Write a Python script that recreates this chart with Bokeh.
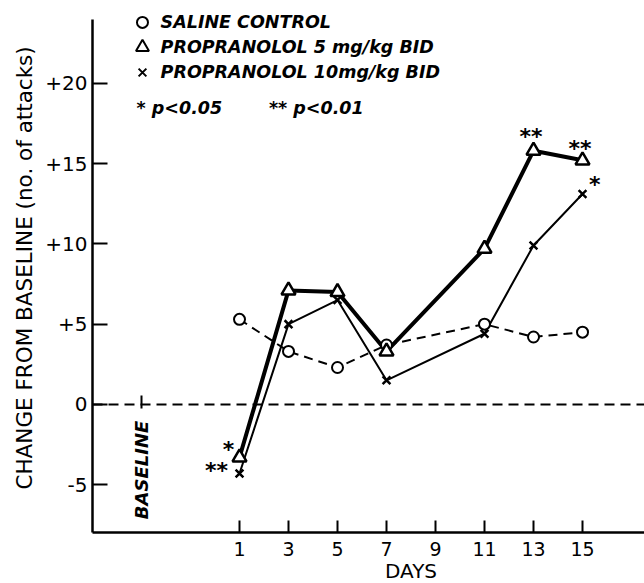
import math
from bokeh.plotting import figure
from bokeh.models import Range1d, FixedTicker
from bokeh.core.properties import value
from bokeh.embed import file_html
from bokeh.resources import INLINE

# ---- data ----
days = [1, 3, 5, 7, 11, 13, 15]
saline = [5.3, 3.3, 2.3, 3.7, 5.0, 4.2, 4.5]
prop5 = [-3.3, 7.1, 7.0, 3.3, 9.7, 15.8, 15.2]
prop10 = [-4.3, 5.0, 6.5, 1.5, 4.4, 9.9, 13.1]

x_ticks = [1, 3, 5, 7, 9, 11, 13, 15]
y_ticks = [-5, 0, 5, 10, 15, 20]
y_tick_labels = ["-5", "0", "+5", "+10", "+15", "+20"]

legend_labels = ["SALINE CONTROL", "PROPRANOLOL 5 mg/kg BID", "PROPRANOLOL 10mg/kg BID"]
legend_markers = ["circle", "triangle", "x"]
sig_legend = ["* p<0.05", "** p<0.01"]

# significance marks (day, value-position, text)
sig_x = [0.55, 0.06, 12.9, 14.9, 15.5]
sig_y = [-2.35, -3.7, 17.1, 16.35, 14.15]
sig_text = ["*", "**", "**", "**", "*"]

FONT = "DejaVu Sans"
X0, X1 = -5, 17.53      # plotted extent of the x axis
Y0, Y1 = -8, 24         # plotted extent of the y axis

p = figure(width=644, height=583,
           x_range=Range1d(-8.755, X1), y_range=Range1d(-11.15, 24.53),
           output_backend="svg", toolbar_location=None,
           min_border_left=0, min_border_right=0,
           min_border_top=10, min_border_bottom=0)
p.xgrid.visible = False
p.ygrid.visible = False
p.outline_line_color = None

# x axis (drawn at y = -8 inside the frame)
xa = p.xaxis[0]
xa.fixed_location = Y0
xa.bounds = (X0, X1)
xa.ticker = FixedTicker(ticks=x_ticks)
xa.major_tick_in = 12
xa.major_tick_out = 0
xa.minor_tick_line_color = None
xa.axis_line_width = 2.5
xa.major_tick_line_width = 2
xa.major_label_text_font = FONT
xa.major_label_text_font_size = "19px"
xa.major_label_text_color = "black"
xa.major_label_standoff = 9

# y axis (drawn at x = -5 inside the frame)
ya = p.yaxis[0]
ya.fixed_location = X0
ya.bounds = (Y0, Y1)
ya.ticker = FixedTicker(ticks=y_ticks)
ya.major_label_overrides = {t: l for t, l in zip(y_ticks, y_tick_labels)}
ya.major_tick_in = 15
ya.major_tick_out = 0
ya.minor_tick_line_color = None
ya.axis_line_width = 2.5
ya.major_tick_line_width = 2
ya.major_label_text_font = FONT
ya.major_label_text_font_size = "20px"
ya.major_label_text_color = "black"
ya.major_label_standoff = 5

# y axis title
p.text(x=[-7.776], y=[8.5], text=["CHANGE FROM BASELINE (no. of attacks)"],
       angle=math.pi / 2, text_align="center", text_baseline="middle",
       text_font=value(FONT), text_font_size="21.5px", text_color="black")

# zero line
p.segment(x0=[X0], y0=[0], x1=[X1], y1=[0], line_color="black",
          line_width=2, line_dash="10 6")

# baseline marker
p.segment(x0=[-3], y0=[-0.25], x1=[-3], y1=[0.56], line_color="black", line_width=2)
p.text(x=[-3], y=[-4.08], text=["BASELINE"], angle=math.pi / 2,
       text_align="center", text_baseline="middle",
       text_font=value(FONT), text_font_style="bold italic",
       text_font_size="18px", text_color="black")

# series lines
p.line(days, saline, line_color="black", line_width=2, line_dash="9 6")
p.line(days, prop10, line_color="black", line_width=2)
p.line(days, prop5, line_color="black", line_width=4)

# markers
p.scatter(days, saline, marker="circle", size=11, fill_color="white",
          line_color="black", line_width=2)
p.scatter(days, prop10, marker="x", size=11, line_color="black", line_width=2.5)
p.scatter(days, prop5, marker="triangle", size=14, fill_color="white",
          line_color="black", line_width=2.5)

# significance marks
p.text(x=sig_x, y=sig_y, text=sig_text, text_align="center", text_baseline="middle",
       y_offset=7, text_font=value(FONT), text_font_style="bold",
       text_font_size="22px", text_color="black")

# legend (drawn manually: marker + label)
leg_y = [23.79, 22.24, 20.67]
for m, yy in zip(legend_markers, leg_y):
    p.scatter([-2.96], [yy], marker=m, size=11 if m != "triangle" else 13,
              fill_color="white", line_color="black", line_width=2)
p.text(x=[-2.22] * 3, y=leg_y, text=legend_labels, text_align="left",
       text_baseline="middle", text_font=value(FONT), text_font_style="bold italic",
       text_font_size="17.5px", text_color="black")
p.text(x=[-3.2, 2.2], y=[18.43, 18.43], text=sig_legend, text_align="left",
       text_baseline="middle", text_font=value(FONT), text_font_style="bold italic",
       text_font_size="17.5px", text_color="black")

# x axis title
p.text(x=[8], y=[-10.4], text=["DAYS"], text_align="center", text_baseline="middle",
       text_font=value(FONT), text_font_size="20px", text_color="black")

open("out.html", "w").write(file_html(p, INLINE))
